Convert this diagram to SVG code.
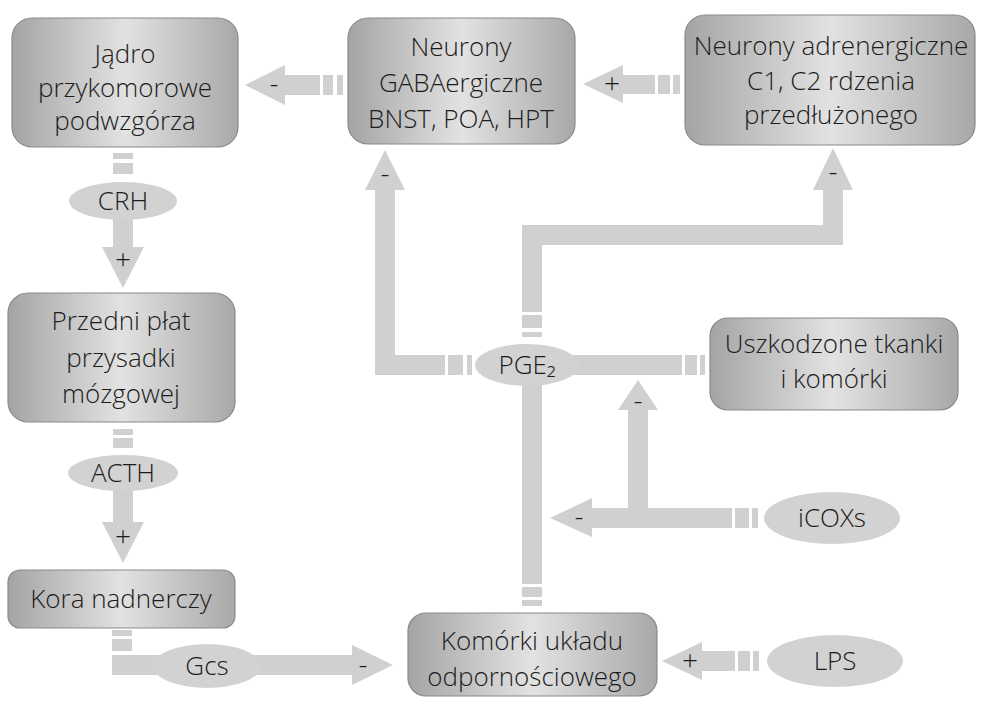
<svg xmlns="http://www.w3.org/2000/svg" width="984" height="702" viewBox="0 0 984 702">
<defs>
<linearGradient id="bg" x1="0" y1="0" x2="1" y2="0">
<stop offset="0" stop-color="#a4a4a4"/>
<stop offset="0.5" stop-color="#e2e2e2"/>
<stop offset="1" stop-color="#a8a8a8"/>
</linearGradient>
</defs>
<style>
.box{fill:url(#bg);stroke:#8a8a8a;stroke-width:1.2}
.ell{fill:#d2d2d2}
.arr{fill:#d0d0d0}
text{font-family:"Open Sans","Liberation Sans",sans-serif;font-weight:300;font-size:26px;fill:#1c1c1c;text-anchor:middle}
.sg{font-size:28px}
</style>
<rect width="984" height="702" fill="#ffffff"/>
<g id="connectors">
<!-- GABA -> Jadro -->
<polygon class="arr" points="245,85 285,65 285,75 320,75 320,95 285,95 285,105"/>
<rect class="arr" x="323" y="75" width="10" height="20"/>
<rect class="arr" x="337" y="75" width="6" height="20"/>
<text class="sg" x="274" y="93">-</text>
<!-- Adrenergic -> GABA -->
<polygon class="arr" points="583,84 623,65 623,75 655,75 655,94 623,94 623,103"/>
<rect class="arr" x="658" y="75" width="12" height="19"/>
<rect class="arr" x="673" y="75" width="7" height="19"/>
<text class="sg" x="612" y="93">+</text>
<!-- Jadro -> CRH -->
<rect class="arr" x="113" y="153" width="20" height="6"/>
<rect class="arr" x="113" y="163" width="20" height="11"/>
<!-- CRH -> Przedni -->
<polygon class="arr" points="113,215 133,215 133,247 144,247 123,288 102,247 113,247"/>
<text class="sg" x="123" y="269">+</text>
<!-- Przedni -> ACTH -->
<rect class="arr" x="113" y="429" width="20" height="6"/>
<rect class="arr" x="113" y="438" width="20" height="10"/>
<!-- ACTH -> Kora -->
<polygon class="arr" points="113,485 133,485 133,522 144,522 123,563 102,522 113,522"/>
<text class="sg" x="123" y="546">+</text>
<!-- Kora -> Gcs -> Komorki -->
<rect class="arr" x="112" y="630" width="20" height="6"/>
<rect class="arr" x="112" y="639" width="20" height="12"/>
<polygon class="arr" points="112,655 352,655 352,645 393,665 352,685 352,675 112,675"/>
<text class="sg" x="363" y="674">-</text>
<!-- Komorki -> PGE2 -->
<rect class="arr" x="522" y="380" width="20" height="204"/>
<rect class="arr" x="522" y="587" width="20" height="10"/>
<rect class="arr" x="522" y="600" width="20" height="6"/>
<!-- PGE2 -> GABA -->
<rect class="arr" x="467" y="355" width="5" height="20"/>
<rect class="arr" x="448" y="355" width="15" height="20"/>
<polygon class="arr" points="445,355 445,375 375,375 375,190 365,190 385,150 405,190 395,190 395,355"/>
<text class="sg" x="385" y="183">-</text>
<!-- PGE2 -> Adrenergic -->
<rect class="arr" x="522" y="332" width="20" height="5"/>
<rect class="arr" x="522" y="315" width="20" height="13"/>
<polygon class="arr" points="522,312 522,225 823,225 823,190 813,190 833,148 853,190 843,190 843,245 542,245 542,312"/>
<text class="sg" x="833" y="181">-</text>
<!-- Uszkodzone -> PGE2 -->
<rect class="arr" x="560" y="355" width="122" height="20"/>
<rect class="arr" x="685" y="355" width="12" height="20"/>
<rect class="arr" x="700" y="355" width="5" height="20"/>
<!-- iCOXs -> Komorki line and up -->
<polygon class="arr" points="550,518 592,498 592,508 628,508 628,410 618,410 638,380 658,410 648,410 648,508 732,508 732,528 592,528 592,537"/>
<rect class="arr" x="735" y="508" width="14" height="20"/>
<rect class="arr" x="752" y="508" width="6" height="20"/>
<text class="sg" x="579" y="526">-</text>
<text class="sg" x="638" y="410">-</text>
<!-- LPS -> Komorki -->
<polygon class="arr" points="662,661 702,642 702,651 735,651 735,671 702,671 702,680"/>
<rect class="arr" x="738" y="651" width="12" height="20"/>
<rect class="arr" x="753" y="651" width="6" height="20"/>
<text class="sg" x="690" y="670">+</text>
</g>
<g id="n-jadro">
<rect class="box" x="12" y="18" width="226" height="129" rx="20"/>
<text x="125" y="63">Jądro</text>
<text x="125" y="97">przykomorowe</text>
<text x="125" y="130">podwzgórza</text>
</g>
<g id="n-gaba">
<rect class="box" x="348" y="18" width="227" height="126" rx="20"/>
<text x="461" y="56">Neurony</text>
<text x="461" y="92">GABAergiczne</text>
<text x="461" y="128">BNST, POA, HPT</text>
</g>
<g id="n-adren">
<rect class="box" x="685" y="15" width="290" height="130" rx="20"/>
<text x="831" y="55">Neurony adrenergiczne</text>
<text x="831" y="90">C1, C2 rdzenia</text>
<text x="831" y="124">przedłużonego</text>
</g>
<g id="n-przedni">
<rect class="box" x="8" y="293" width="227" height="129" rx="20"/>
<text x="121" y="330">Przedni płat</text>
<text x="121" y="367">przysadki</text>
<text x="121" y="403">mózgowej</text>
</g>
<g id="n-kora">
<rect class="box" x="8" y="570" width="227" height="58" rx="12"/>
<text x="121" y="608">Kora nadnerczy</text>
</g>
<g id="n-uszk">
<rect class="box" x="710" y="318" width="248" height="92" rx="18"/>
<text x="834" y="353">Uszkodzone tkanki</text>
<text x="834" y="388">i komórki</text>
</g>
<g id="n-komorki">
<rect class="box" x="408" y="613" width="249" height="83" rx="18"/>
<text x="532" y="650">Komórki układu</text>
<text x="532" y="686">odpornościowego</text>
</g>
<g id="e-crh">
<ellipse class="ell" cx="123" cy="201" rx="54" ry="19"/>
<text x="123" y="210">CRH</text>
</g>
<g id="e-acth">
<ellipse class="ell" cx="123" cy="473" rx="55" ry="18"/>
<text x="123" y="482">ACTH</text>
</g>
<g id="e-gcs">
<ellipse class="ell" cx="207" cy="666" rx="54" ry="22"/>
<text x="207" y="675">Gcs</text>
</g>
<g id="e-pge2">
<ellipse class="ell" cx="527" cy="365" rx="52" ry="21"/>
<text x="527" y="374">PGE₂</text>
</g>
<g id="e-icox">
<ellipse class="ell" cx="832" cy="518" rx="68" ry="26"/>
<text x="832" y="527">iCOXs</text>
</g>
<g id="e-lps">
<ellipse class="ell" cx="835" cy="661" rx="68" ry="26"/>
<text x="835" y="670">LPS</text>
</g>
</svg>
